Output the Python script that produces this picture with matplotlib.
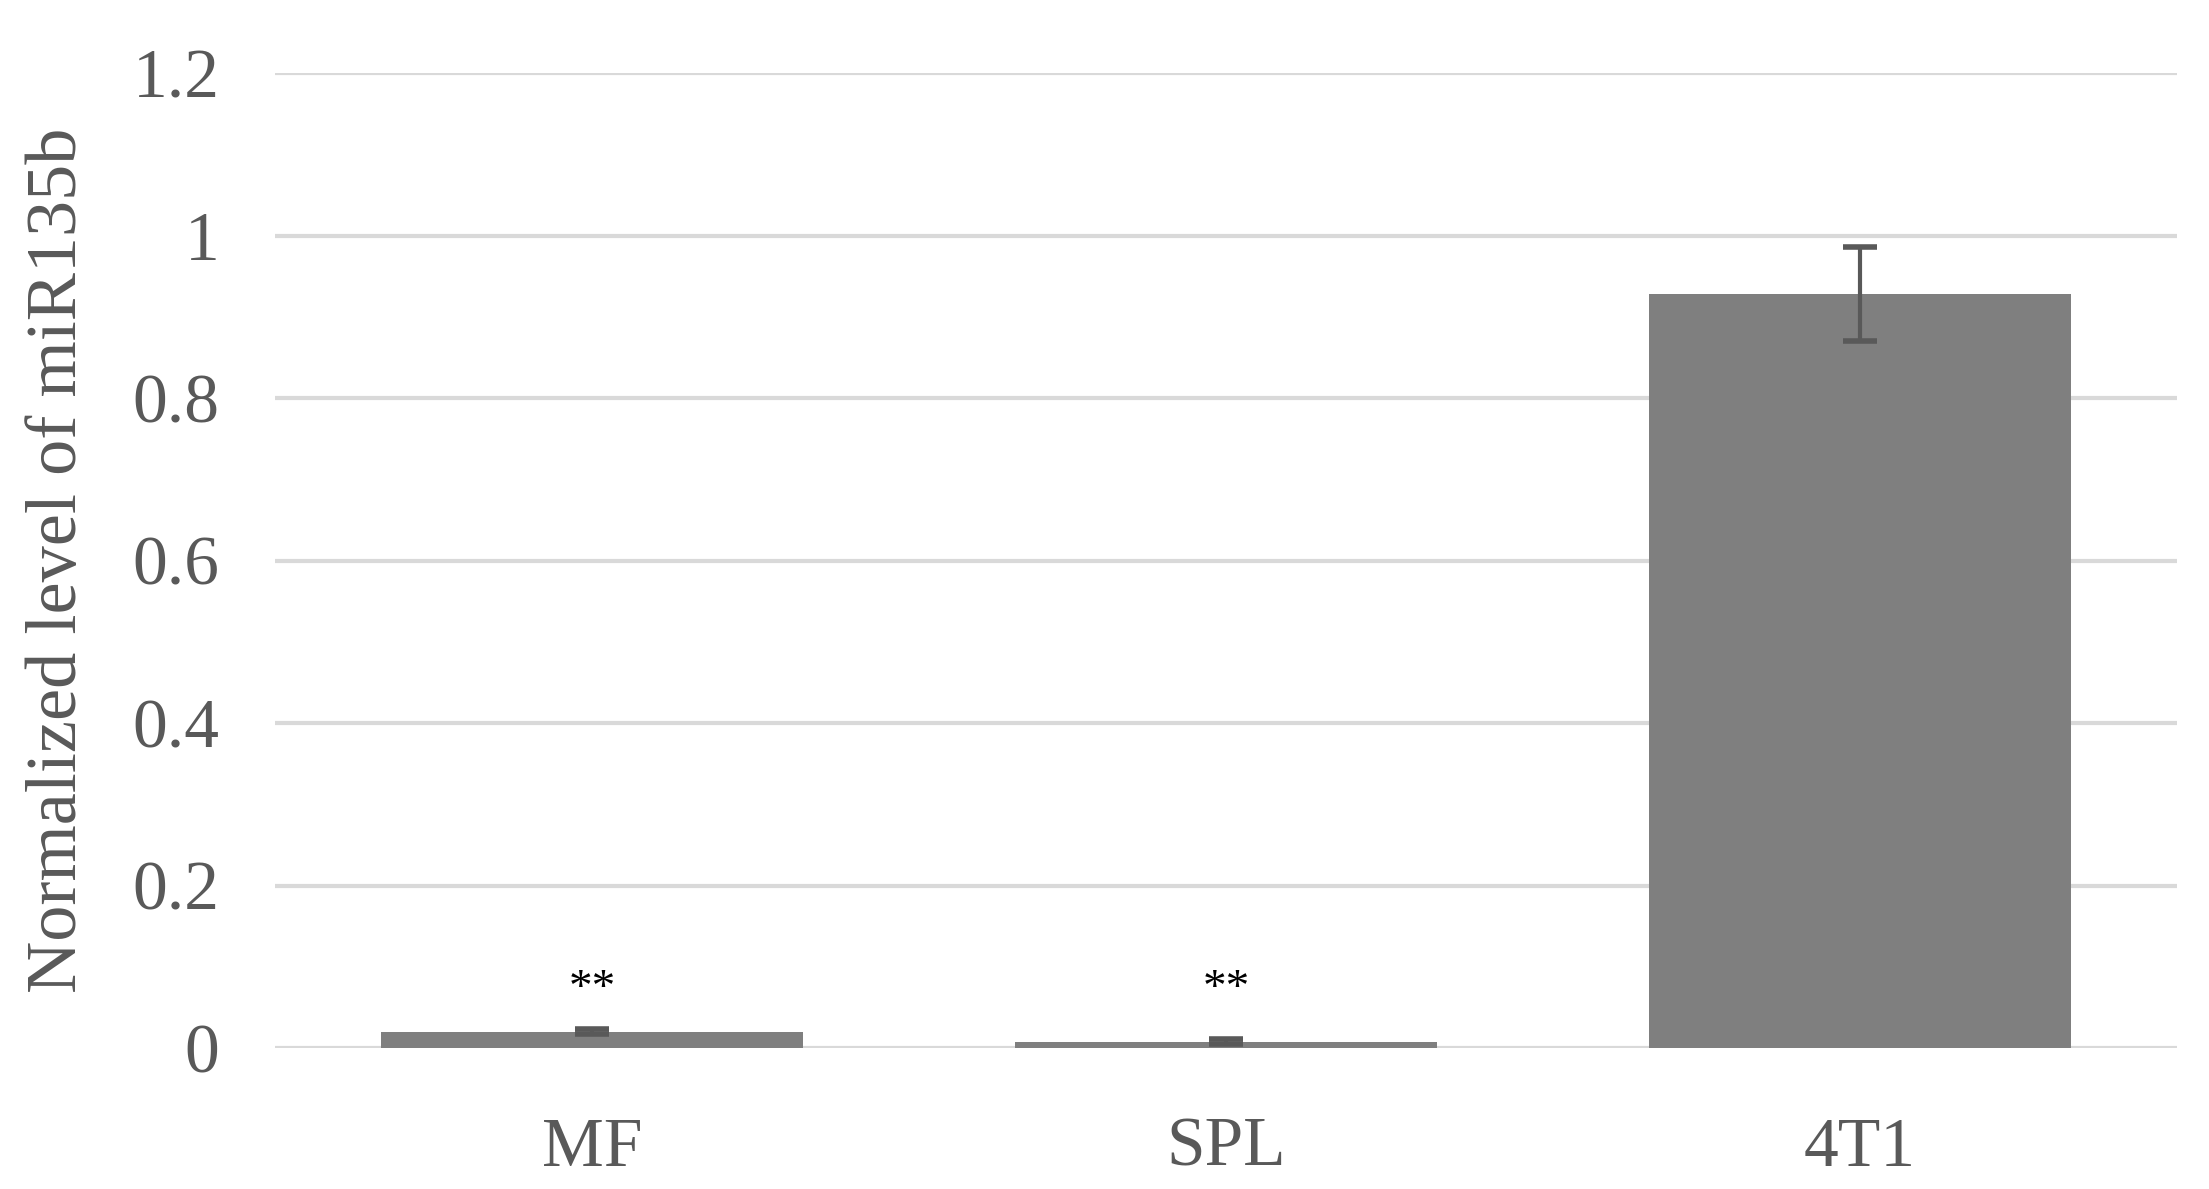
import matplotlib.pyplot as plt

categories = ["MF", "SPL", "4T1"]
values = [0.020, 0.008, 0.928]
errors = [0.003, 0.003, 0.058]
marks = ["**", "**", ""]
yticks = [0, 0.2, 0.4, 0.6, 0.8, 1, 1.2]
ytick_labels = ["0", "0.2", "0.4", "0.6", "0.8", "1", "1.2"]

plt.rcParams['font.family'] = ['Liberation Serif', 'DejaVu Serif']
text_color = '#595959'

fig = plt.figure(figsize=(22.09, 11.89), dpi=100)
ax = fig.add_axes([275 / 2209, 1 - 1048 / 1189, 1902 / 2209, 975 / 1189])

x = list(range(len(categories)))
ax.bar(x, values, width=0.665, color='#7f7f7f', zorder=3)
ax.errorbar(x, values, yerr=errors, fmt='none', ecolor='#595959',
            elinewidth=3, capsize=12, capthick=4, zorder=4)

for xi, v, e, m in zip(x, values, errors, marks):
    if m:
        ax.text(xi, 0.072, m, ha='center', va='center', fontsize=34,
                color='black')

ax.set_xlim(-0.5, 2.5)
ax.set_ylim(0, 1.2)
ax.set_yticks(yticks)
ax.set_yticklabels(ytick_labels)
ax.set_xticks(x)
ax.set_xticklabels(categories)
ax.tick_params(axis='y', length=0, pad=40, labelsize=50, labelcolor=text_color)
ax.tick_params(axis='x', length=0, pad=50, labelsize=50, labelcolor=text_color)

ax.grid(axis='y', color='#d9d9d9', linewidth=3, zorder=0)
for s in ax.spines.values():
    s.set_visible(False)

ax.set_ylabel("Normalized level of miR135b", fontsize=52, color=text_color,
              va='center')
ax.yaxis.set_label_coords(-0.114, 0.5)

fig.savefig("out.png", dpi=100)
